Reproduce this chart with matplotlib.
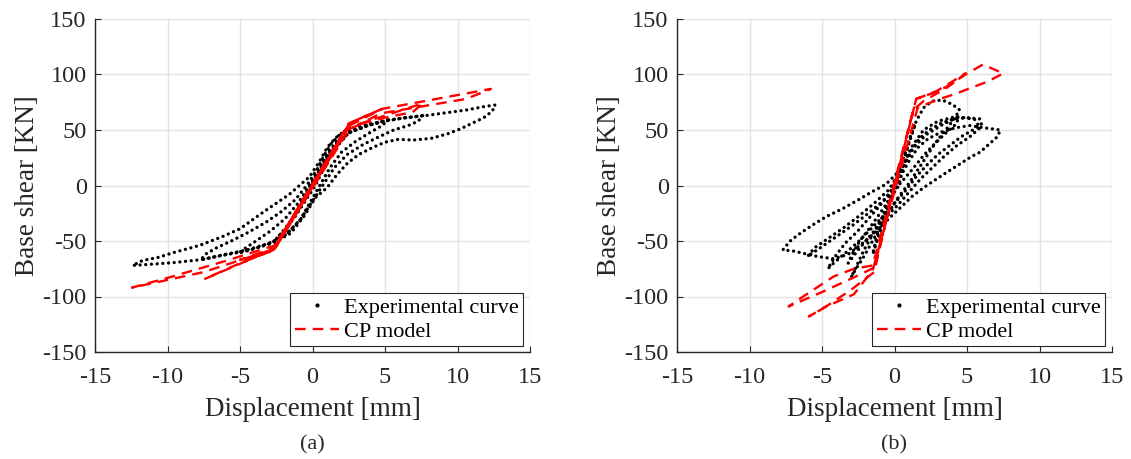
import matplotlib
matplotlib.use("Agg")
import matplotlib.pyplot as plt
from matplotlib.lines import Line2D

plt.rcParams['font.family'] = ['Liberation Serif', 'DejaVu Serif']
plt.rcParams['axes.unicode_minus'] = False

# (a) experimental hysteresis
exp_a_x = [0, 0.6, 1.2, 1.8, 2.4, 2.0, 1.4, 0.8, 0.2, -0.5, -1.2, -1.9, -2.5, -2.1, -1.5, -0.8, -0.2,
           0.5, 1.1, 1.8, 2.6, 3.6, 4.6, 5.2, 4.8, 4.0, 3.0, 2.0, 1.2, 0.5, -0.2, -0.9, -1.8, -2.9, -4.0,
           -5.1, -4.7, -3.9, -2.9, -1.9, -1.0, -0.3,
           0.4, 1.0, 1.7, 2.6, 3.8, 5.2, 6.4, 7.6, 7.3, 6.6, 5.6, 4.6, 3.5, 2.4, 1.5, 0.8, 0.1, -0.8,
           -1.8, -3.0, -4.5, -6.0, -7.7, -7.4, -6.6, -5.6, -4.4, -3.2, -2.2, -1.2, -0.4,
           0.3, 0.8, 1.3, 1.9, 2.7, 3.8, 5.0, 6.4, 7.8, 9.2, 10.6, 11.8, 12.6, 12.4, 11.8, 11.0, 10.2,
           9.3, 8.2, 7.0, 5.9, 5.0, 4.1, 3.2, 2.4, 1.7, 1.0, 0.2, -0.6, -1.5, -2.6, -3.8, -5.0, -6.2,
           -7.8, -9.6, -11.2, -12.4, -11.7, -10.7, -9.6, -7.8, -6.2, -5.0, -3.4, -1.6, -0.2, 0.5, 1.0,
           1.6, 2.3]
exp_a_y = [0, 14, 28, 38, 46, 40, 30, 16, 0, -14, -28, -40, -48, -42, -32, -16, -2,
           14, 28, 40, 48, 53, 57, 59, 54, 48, 40, 30, 16, 0, -16, -32, -44, -52, -57,
           -61, -57, -50, -41, -30, -16, -2,
           14, 28, 40, 48, 54, 59, 61, 63, 58, 54, 50, 44, 37, 28, 16, 2, -12, -30,
           -44, -52, -58, -62, -67, -62, -56, -50, -42, -33, -24, -13, 0,
           14, 27, 38, 46, 51, 55, 58, 61, 63, 65.5, 68, 71, 72.5, 67, 61, 56, 51,
           46.5, 42.5, 41, 41.5, 39, 34, 28, 20, 10, -2, -11, -28, -43, -51, -56, -60, -63,
           -67, -69.5, -71, -72, -67.5, -65, -60.5, -54, -46, -39, -24, -8, 8, 22, 34,
           43, 50]

# (a) CP model
cp_a_x = [0, 2.4, 4.8, 3.2, 2.5, -2.6, -5.0, -3.4, -2.7,
          2.4, 7.6, 6.9, 5.3, 3.2, 2.4, -2.6, -7.4, -5.0, -2.8,
          2.5, 4.8, 12.3, 10.6, 4.7, 2.5, -2.6, -7.5, -12.45, -9.8, -6.0, -2.6, 0]
cp_a_y = [0, 53, 69, 60, 55, -56, -67, -62, -58,
          52, 74, 66, 62, 55, 50, -57, -84, -70, -59,
          56, 69, 87, 78, 65, 50, -57, -78, -92, -82.5, -68, -54, 0]

# (b) experimental hysteresis
exp_b_x = [0, 0.4, 0.8, 1.2, 1.4, 1.1, 0.6, 0.1, -0.4, -0.9, -1.3, -1.5, -1.1, -0.6, -0.1,
           0.3, 0.7, 1.1, 1.5, 2.0, 2.6, 3.3, 4.0, 4.5, 4.0, 3.4, 2.8, 2.2, 1.6, 1.0, 0.3, -0.4,
           -1.0, -1.6, -2.2, -2.7, -3.0, -2.6, -2.1, -1.5, -0.9, -0.3, 0.2,
           0.6, 1.3, 2.2, 3.2, 4.4, 4.3, 3.6, 2.8, 2.0, 1.2, 0.4, -0.6, -1.7, -2.9, -4.0, -5.0,
           -6.0, -5.5, -4.6, -3.6, -2.5, -1.4, -0.4,
           0.5, 1.2, 2.0, 3.0, 4.2, 5.5, 5.9, 5.2, 4.3, 3.4, 2.6, 1.8, 1.0, 0.2, -0.7, -1.6, -2.5,
           -3.2, -3.0, -2.4, -1.7, -1.0, -0.3, 0.3,
           0.6, 1.1, 1.7, 2.4, 3.2, 4.1, 5.0, 5.9, 6.0, 5.4, 4.6, 3.8, 3.0, 2.2, 1.5, 0.8, 0.0,
           -0.8, -1.7, -2.6, -3.5, -4.2, -4.6, -4.1, -3.4, -2.6, -1.8, -1.0, -0.2,
           0.4, 1.0, 1.6, 2.3, 3.2, 4.2, 5.2, 6.2, 7.3, 7.1, 6.5, 5.9, 5.3, 4.7, 4.1, 3.5, 2.8,
           2.0, 1.2, 0.4, -0.4, -1.3, -2.2, -3.2, -4.2, -5.3, -6.3, -7.0, -7.7, -7.2, -6.6, -5.7,
           -4.7, -3.6, -2.5, -1.6, -0.6, 0.1, 0.5]
exp_b_y = [0, 16, 32, 48, 56, 44, 24, 6, -12, -32, -50, -62, -46, -26, -6,
           10, 26, 42, 58, 70, 76, 77, 73, 68, 58, 48, 38, 26, 14, 2, -10, -24,
           -38, -52, -66, -76, -83, -72, -58, -44, -30, -14, 2,
           18, 34, 46, 54, 62, 56, 48, 38, 27, 14, 2, -12, -24, -36, -46, -55,
           -64, -56, -48, -39, -28, -16, -4,
           15, 35, 50, 58, 62, 60, 52, 44, 36, 26, 16, 6, -6, -18, -30, -44, -58,
           -70, -64, -50, -38, -25, -12, 0,
           16, 30, 42, 50, 56, 60, 61, 60, 55, 50, 44, 36, 28, 18, 8, -4, -16,
           -28, -40, -52, -62, -70, -75, -64, -52, -42, -30, -18, -4,
           8, 22, 34, 42, 48, 52, 54, 52, 50, 44, 37, 30, 26, 21, 16, 11, 5,
           -2, -10, -20, -30, -42, -52, -62, -66, -64, -61, -59, -58, -50, -44, -36,
           -28, -21, -13, -6, 1, 10, 20]

# (b) CP model
cp_b_x = [0, 1.5, 2.9, 4.9, 3.6, 2.0, 1.3, -1.4, -3.0, -5.0, -7.3, -6.3, -4.2, -2.8, -1.5,
          1.5, 2.9, 3.8, 4.9, 6.1, 7.5, 6.4, 5.2, 4.3, 2.9, 1.6, -1.5, -2.8, -4.7, -5.9,
          -4.6, -3.0, -1.4, 0]
cp_b_y = [0, 78, 85, 101, 88, 76, 68, -74, -84, -96, -109, -100, -82, -75, -72,
          78, 84.5, 90.5, 100, 109, 101, 93.5, 87.6, 83, 77, 70, -76, -98, -109, -118,
          -108, -94, -78, 0]

panels = [(exp_a_x, exp_a_y, cp_a_x, cp_a_y, '(a)'),
          (exp_b_x, exp_b_y, cp_b_x, cp_b_y, '(b)')]
axes_left = [95 / 1131, 677 / 1131]

fig = plt.figure(figsize=(11.31, 4.59), dpi=100)

for (ex, ey, cx, cy, tag), left in zip(panels, axes_left):
    ax = fig.add_axes([left, 107 / 459, 435 / 1131, 333 / 459])
    ax.plot(ex, ey, color='k', lw=2.4, linestyle=(0, (0.01, 1.7)),
            dash_capstyle='round', zorder=3)
    ax.plot(cx, cy, color='#ff0000', lw=1.7, linestyle=(0, (4.5, 3)), zorder=4)

    ax.set_xlim(-15, 15)
    ax.set_ylim(-150, 150)
    ax.set_xticks(range(-15, 16, 5))
    ax.set_yticks(range(-150, 151, 50))
    ax.grid(True, color='#e3e3e3', lw=1.0)
    ax.set_axisbelow(True)
    for s in ['top', 'right']:
        ax.spines[s].set_visible(False)
    for s in ['left', 'bottom']:
        ax.spines[s].set_color('#262626')
        ax.spines[s].set_linewidth(1.0)
    ax.tick_params(direction='in', length=4, width=0.8, colors='#262626',
                   labelsize=17.5, pad=6)
    ax.tick_params(axis='x', pad=11)
    ax.set_xlabel('Displacement [mm]', fontsize=19.5, color='#262626', labelpad=6)
    ax.set_ylabel('Base shear [KN]', fontsize=19.5, color='#262626', labelpad=2)

    handles = [Line2D([], [], color='k', marker='.', markersize=4, linestyle='none'),
               Line2D([], [], color='#ff0000', lw=1.7, linestyle=(0, (4.5, 3)))]
    leg = ax.legend(handles, ['Experimental curve', 'CP model'], loc='lower right',
                    bbox_to_anchor=(1 - 7 / 435, 6 / 333), borderaxespad=0,
                    fontsize=16, fancybox=False, framealpha=1, edgecolor='#262626',
                    borderpad=0.2, labelspacing=0.15, handletextpad=0.2,
                    handlelength=2.0)
    leg.get_frame().set_linewidth(0.8)

    fig.text(left + 435 / 1131 / 2, 1 - 445 / 459, tag, ha='center', va='center',
             fontsize=16, color='#262626')

fig.savefig('out.png', dpi=100)
